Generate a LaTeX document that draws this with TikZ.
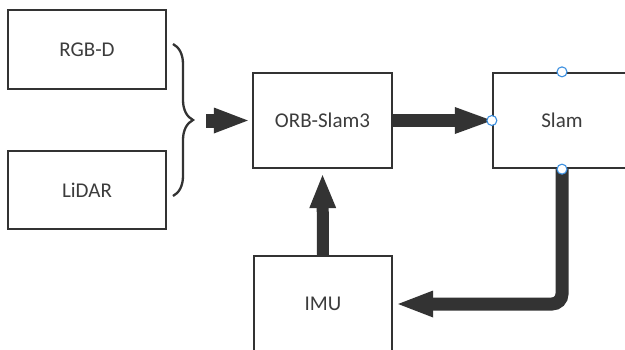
\documentclass[tikz,border=0pt]{standalone}
\usepackage{fontspec}
\setmainfont{Carlito}
\usetikzlibrary{arrows.meta,decorations.pathreplacing}
\definecolor{ink}{HTML}{333333}
\definecolor{txt}{HTML}{3C3C3C}
\definecolor{handlec}{HTML}{3B8FE0}
\begin{document}
\begin{tikzpicture}[x=1pt,y=-1pt,
  box/.style={draw=ink,line width=2.3pt,fill=white,inner sep=0pt,text=txt,font=\fontsize{21}{24}\selectfont},
  flow/.style={draw=ink,line width=13pt,-{Triangle[length=37pt,width=27pt,line width=0pt]}},
  handle/.style={circle,draw=handlec,fill=white,line width=1.1pt,minimum size=10pt,inner sep=0pt}]
\useasboundingbox (0,0) rectangle (625,349);
\clip (0,0) rectangle (625,349);
\fill[white] (0,0) rectangle (625,349);

\node[box,minimum width=158pt,minimum height=79pt] (rgbd) at (87,49.5) {RGB-D};
\node[box,minimum width=158pt,minimum height=78pt] (lidar) at (87,190) {LiDAR};
\node[box,minimum width=139pt,minimum height=95pt] (orb) at (322.5,120.5) {ORB-Slam3};
\node[box,minimum width=138pt,minimum height=95pt] (slam) at (562,120.5) {Slam};
\node[box,minimum width=138pt,minimum height=96pt] (imu) at (323,304) {IMU};

\draw[draw=ink,line width=2.3pt,decorate,decoration={brace,amplitude=20pt,aspect=0.5}] (173,44) -- (173,196);
\coordinate (bt) at (206,120.5);

\draw[flow,line width=14pt,-{Triangle[length=34pt,width=26pt,line width=0pt]},shorten >=4pt] (bt) -- (orb.west);
\draw[flow] (orb.east) -- (slam.west);
\draw[flow,line width=12pt,-{Triangle[length=33pt,width=27pt,line width=0pt]},shorten >=6pt] (imu.north) -- (orb.south);
\draw[flow,rounded corners=10pt,-{Triangle[length=35pt,width=27pt,line width=0pt]},shorten >=5pt] (slam.south) |- (imu.east);

\node[handle] (h1) at (slam.north) {};
\node[handle] (h2) at (slam.west) {};
\node[handle] (h3) at (slam.south) {};
\node[handle] (h4) at (slam.east) {};
\end{tikzpicture}
\end{document}
